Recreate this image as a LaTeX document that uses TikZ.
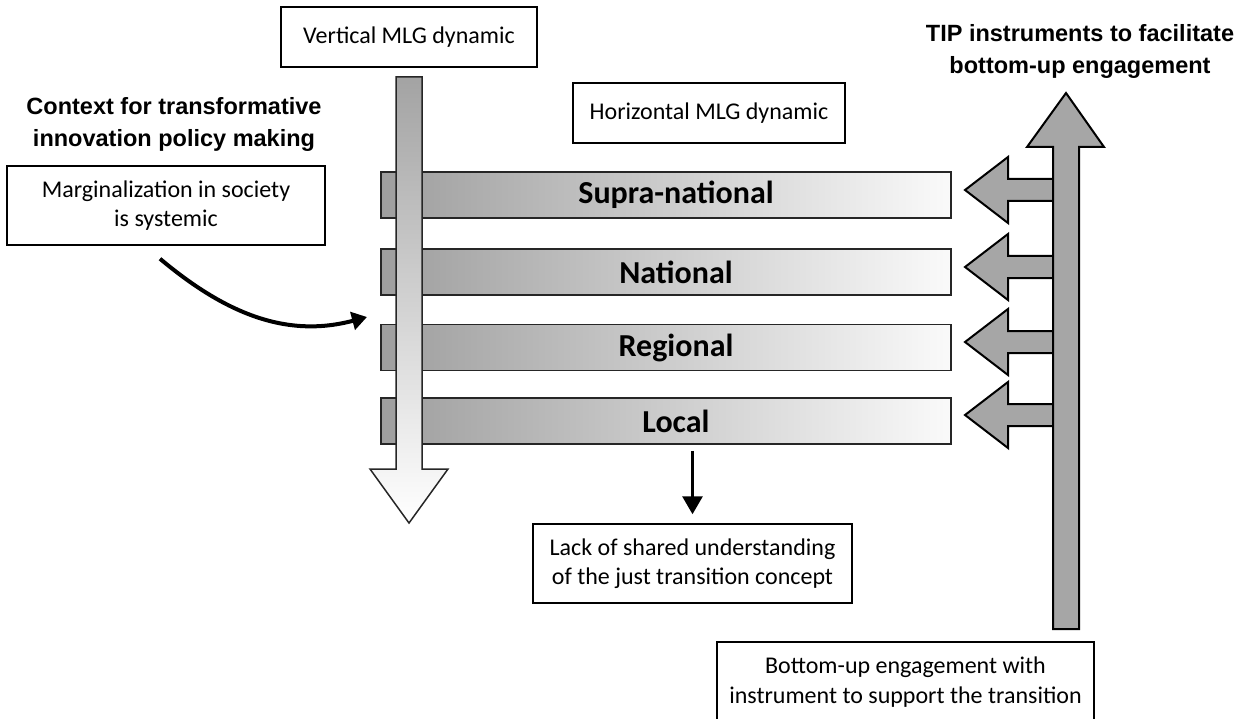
\documentclass[tikz,border=0pt]{standalone}
\usepackage{fontspec}
\setmainfont{Carlito}
\newfontfamily\headfont{Liberation Sans}
\usetikzlibrary{arrows.meta}

\begin{document}
\begin{tikzpicture}[x=1pt, y=-1pt,
    txtbox/.style={draw, line width=1.5pt, fill=white, align=center, inner sep=0pt,
      font=\fontsize{24}{29}\selectfont},
    heading/.style={align=center, font=\headfont\bfseries\fontsize{23.5}{32}\selectfont},
    levelbar/.style={draw=black!85, line width=1.5pt, left color=black!38, right color=black!2,
      minimum width=570pt, minimum height=46pt, inner sep=0pt},
    barlabel/.style={font=\bfseries\fontsize{32}{36}\selectfont, xshift=10pt},
    sidearrow/.style={draw=black, line width=2pt, fill=black!35, line join=miter}]

    \useasboundingbox (0,0) rectangle (1244,719);

    \node[heading] (ctxhead) at (174,124) {Context for transformative\\innovation policy making};
    \node[heading] (tiphead) at (1080,51) {TIP instruments to facilitate\\bottom-up engagement};

    \node[txtbox, minimum width=256pt, minimum height=60pt] (vertical) at (409,37) {Vertical MLG dynamic};
    \node[txtbox, minimum width=272pt, minimum height=60pt] (horizontal) at (709,113) {Horizontal MLG dynamic};
    \node[txtbox, minimum width=318pt, minimum height=79pt] (marg) at (166,205.5) {Marginalization in society\\is systemic};
    \node[txtbox, minimum width=319pt, minimum height=79pt] (lack) at (692.5,563.5) {Lack of shared understanding\\of the just transition concept};
    \node[txtbox, minimum width=377pt, minimum height=80pt, font=\fontsize{24}{30}\selectfont] (bottomup) at (905.5,682) {Bottom-up engagement with\\instrument to support the transition};

    \foreach \name/\txt/\ypos in {supra/Supra-national/195, national/National/272, regional/Regional/347.5, local/Local/421}
        \node[levelbar, label={[barlabel]center:\txt}] (\name) at (666,\ypos) {};

    \shade[draw=black!85, line width=1.5pt, top color=black!36, bottom color=white, line join=miter]
        (396,77) -- (422,77) -- (422,469) -- (448,469) -- (409,523) -- (370,469) -- (396,469) -- cycle;

    \foreach \ypos in {190,267,342,415}
        \draw[sidearrow] (1056,{\ypos-11}) -- (1008,{\ypos-11}) -- (1008,{\ypos-33}) -- (965,\ypos)
            -- (1008,{\ypos+33}) -- (1008,{\ypos+11}) -- (1056,{\ypos+11});
    \draw[sidearrow] (1053,629) -- (1053,147) -- (1027,147) -- (1066,93) -- (1104,147) -- (1079,147) -- (1079,629) -- cycle;

    \draw[line width=3pt, -{Triangle[width=20pt,length=18pt]}, shorten <=6pt, shorten >=9pt]
        (lack.north |- local.south) -- (lack.north);

    \coordinate (ctxend) at (367,317);
    \draw[line width=4pt, -{Triangle[width=18pt,length=15pt]}]
        ([shift={(-6,13)}]marg.south) to[out=-40, in=195] (ctxend);
\end{tikzpicture}
\end{document}
